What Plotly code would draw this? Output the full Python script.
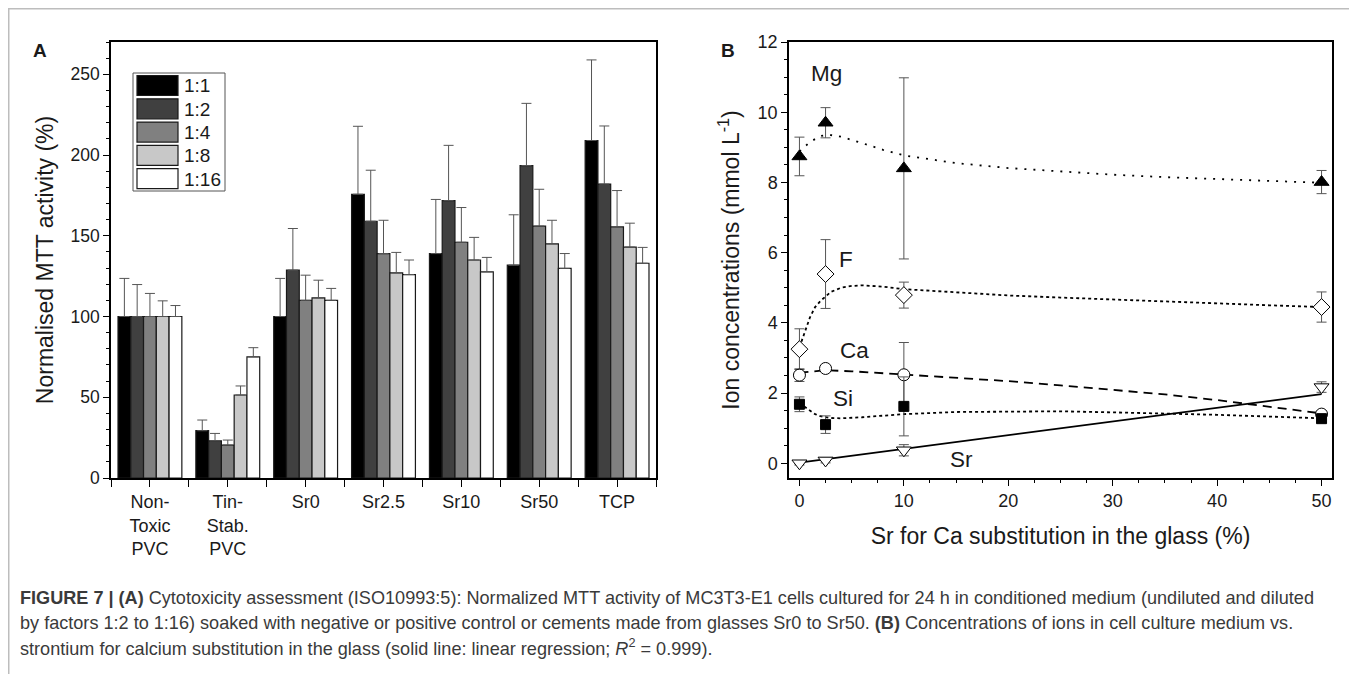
import plotly.graph_objects as go

# ---------------- Panel A data ----------------
groups = ["Non-<br>Toxic<br>PVC", "Tin-<br>Stab.<br>PVC", "Sr0", "Sr2.5", "Sr10", "Sr50", "TCP"]
dilutions = ["1:1", "1:2", "1:4", "1:8", "1:16"]
mtt_11 = [100, 29.3, 100, 175.7, 139, 131.8, 209]
mtt_12 = [100, 23.0, 128.7, 159, 171.8, 193.5, 182]
mtt_14 = [100, 20.4, 110, 139, 146, 156, 155.5]
mtt_18 = [100, 51.4, 111.5, 127, 135, 145, 143]
mtt_116 = [100, 75.0, 110, 126, 127.7, 129.8, 133]
err_11 = [23.6, 6.6, 23.6, 42.1, 33.5, 31.2, 49.9]
err_12 = [19.8, 4.6, 25.8, 31.6, 34.2, 38.5, 36]
err_14 = [14.3, 3.1, 15.6, 20.6, 21.5, 22.8, 22.5]
err_18 = [9.7, 5.6, 11.0, 12.7, 14, 14.6, 14.8]
err_116 = [6.8, 5.7, 7.4, 9, 8.9, 9.2, 9.8]

# ---------------- Panel B data ----------------
sub_x = [0, 2.5, 10, 50]
mg_y = [8.74, 9.70, 8.40, 8.01]
mg_err = [0.55, 0.43, 2.58, 0.33]
f_y = [3.25, 5.39, 4.79, 4.45]
f_err = [0.58, 0.98, 0.37, 0.43]
ca_y = [2.51, 2.70, 2.52, 1.40]
ca_err = [0.18, 0.08, 0.92, 0.08]
si_y = [1.68, 1.10, 1.62, 1.27]
si_err = [0.21, 0.25, 0.84, 0.12]
sr_y = [0.0, 0.08, 0.37, 2.17]
sr_err = [0.05, 0.07, 0.16, 0.15]

mg_fit_x = [0, 1, 2, 2.5, 3, 4, 6, 8, 10, 15, 20, 25, 30, 35, 40, 45, 50]
mg_fit_y = [8.88, 9.15, 9.32, 9.35, 9.35, 9.30, 9.12, 8.93, 8.77, 8.55, 8.41, 8.31, 8.22, 8.15, 8.09, 8.04, 7.99]
f_fit_x = [0, 0.5, 1, 1.5, 2, 2.5, 3, 4, 5, 6, 8, 10, 15, 20, 25, 30, 35, 40, 45, 50]
f_fit_y = [3.30, 3.70, 4.15, 4.45, 4.62, 4.75, 4.88, 5.00, 5.05, 5.07, 5.03, 4.96, 4.86, 4.78, 4.72, 4.66, 4.60, 4.55, 4.50, 4.45]
ca_fit_x = [0, 2.5, 5, 10, 15, 20, 25, 30, 35, 40, 45, 50]
ca_fit_y = [2.58, 2.65, 2.62, 2.53, 2.44, 2.34, 2.22, 2.10, 1.96, 1.80, 1.62, 1.42]
si_fit_x = [0, 0.5, 1, 1.5, 2, 3, 4, 6, 8, 10, 15, 20, 25, 30, 35, 40, 45, 50]
si_fit_y = [1.72, 1.60, 1.50, 1.40, 1.34, 1.29, 1.28, 1.31, 1.35, 1.40, 1.46, 1.48, 1.48, 1.45, 1.42, 1.38, 1.33, 1.28]
sr_fit_x = [0, 50]
sr_fit_y = [0.02, 1.97]

ion_labels = ["Mg", "F", "Ca", "Si", "Sr"]
ion_label_x = [2.6, 4.5, 5.3, 4.2, 15.5]
ion_label_y = [11.1, 5.8, 3.2, 1.85, 0.1]

caption_lines = [
    "<b>FIGURE 7 | (A)</b> Cytotoxicity assessment (ISO10993:5): Normalized MTT activity of MC3T3-E1 cells cultured for 24 h in conditioned medium (undiluted and diluted",
    "by factors 1:2 to 1:16) soaked with negative or positive control or cements made from glasses Sr0 to Sr50. <b>(B)</b> Concentrations of ions in cell culture medium vs.",
    "strontium for calcium substitution in the glass (solid line: linear regression; <i>R</i><sup>2</sup> = 0.999).",
]

# ---------------- layout geometry (screen px; page body adds an 8 px offset) ----------------
OFF = 8
W, H = 1357 - OFF, 674 - OFF
A_LEFT, A_RIGHT, B_LEFT, B_RIGHT, P_TOP, P_BOT = 111, 656, 789, 1332, 42, 478
ML, MR, MT = A_LEFT - OFF, W - (B_RIGHT - OFF), P_TOP - OFF
MB = H - (P_BOT - OFF)
PW, PH = W - ML - MR, H - MT - MB
FONT = "Liberation Sans, Arial, sans-serif"
TXT = "#1a1a1a"
bar_colors = ["#000000", "#404040", "#808080", "#c8c8c8", "#ffffff"]


def fx(sx):
    return (sx - OFF - ML) / PW


def fy(sy):
    return (H - MB - (sy - OFF)) / PH


fig = go.Figure()

vals = [mtt_11, mtt_12, mtt_14, mtt_18, mtt_116]
errs = [err_11, err_12, err_14, err_18, err_116]
xpos = list(range(len(groups)))
for name, v, e, c in zip(dilutions, vals, errs, bar_colors):
    fig.add_trace(go.Bar(
        x=xpos, y=v, name=name, marker=dict(color=c, line=dict(color="#1a1a1a", width=1.2)),
        error_y=dict(type="data", array=e, arrayminus=[0] * len(e), symmetric=False,
                     color="#555555", thickness=1, width=5),
        xaxis="x", yaxis="y", showlegend=False,
    ))

# fit lines (panel B)
line_specs = [
    (mg_fit_x, mg_fit_y, "2px,7px"),
    (f_fit_x, f_fit_y, "3px,3px"),
    (ca_fit_x, ca_fit_y, "9px,6px"),
    (si_fit_x, si_fit_y, "3px,3px"),
    (sr_fit_x, sr_fit_y, "solid"),
]
for lx, ly, dash in line_specs:
    fig.add_trace(go.Scatter(x=lx, y=ly, mode="lines", line=dict(color="black", width=1.8, dash=dash),
                             xaxis="x2", yaxis="y2", showlegend=False, hoverinfo="skip"))

pt_specs = [
    ("Mg", mg_y, mg_err, "triangle-up", "black", 13),
    ("F", f_y, f_err, "diamond", "white", 13),
    ("Ca", ca_y, ca_err, "circle", "white", 12),
    ("Si", si_y, si_err, "square", "black", 10),
    ("Sr", sr_y, sr_err, "triangle-down", "white", 13),
]
for name, yv, ev, sym, fill, size in pt_specs:
    fig.add_trace(go.Scatter(
        x=sub_x, y=yv, mode="markers", name=name,
        marker=dict(symbol=sym, color=fill, size=size, line=dict(color="black", width=1)),
        error_y=dict(type="data", array=ev, color="#555555", thickness=1, width=5),
        xaxis="x2", yaxis="y2", showlegend=False,
    ))

axis_common = dict(showline=True, linecolor="black", linewidth=1.5, mirror=True, showgrid=False,
                   zeroline=False, ticks="outside", tickcolor="black", tickwidth=1.2)
title_font = dict(family=FONT, size=23, color=TXT)

fig.update_layout(
    width=W, height=H, margin=dict(l=ML, r=MR, t=MT, b=MB),
    plot_bgcolor="white", paper_bgcolor="white",
    barmode="group", bargap=0.18, bargroupgap=0,
    font=dict(family=FONT, color=TXT),
    xaxis=dict(axis_common, domain=[0, fx(A_RIGHT)], range=[-0.5, 6.5], tickvals=xpos, ticktext=groups,
               ticklen=7, tickfont=dict(family=FONT, size=18, color=TXT),
               minor=dict(dtick=1, tick0=0.5, ticks="outside", ticklen=7, tickcolor="black")),
    yaxis=dict(axis_common, domain=[0, 1], range=[0, 270], dtick=50, ticklen=6,
               tickfont=dict(family=FONT, size=17.5, color=TXT),
               minor=dict(dtick=10, ticks="outside", ticklen=3, tickcolor="black"),
               title=dict(text="Normalised MTT activity (%)", font=title_font, standoff=10)),
    xaxis2=dict(axis_common, domain=[fx(B_LEFT), 1], range=[-1, 51], dtick=10, ticklen=6, anchor="y2",
                tickfont=dict(family=FONT, size=18, color=TXT),
                minor=dict(dtick=2.5, tick0=0, ticks="outside", ticklen=3, tickcolor="black"),
                title=dict(text="Sr for Ca substitution in the glass (%)", font=title_font, standoff=18)),
    yaxis2=dict(axis_common, domain=[0, 1], range=[-0.42, 12], dtick=2, ticklen=6, anchor="x2",
                tickfont=dict(family=FONT, size=18, color=TXT),
                minor=dict(dtick=0.5, tick0=0, ticks="outside", ticklen=3, tickcolor="black"),
                title=dict(text="Ion concentrations (mmol L<sup>-1</sup>)", font=title_font, standoff=12)),
)

shapes = []
annotations = []
# outer figure frame
shapes.append(dict(type="rect", xref="paper", yref="paper", x0=fx(OFF + 0.75), x1=fx(1354), y0=fy(720), y1=fy(OFF + 0.75),
                   line=dict(color="#bdbdbd", width=1.5), fillcolor="rgba(0,0,0,0)", layer="below"))
# legend (panel A)
lx0, ly0, pitch = 133, 73, 23.3
shapes.append(dict(type="rect", xref="paper", yref="paper", x0=fx(lx0), x1=fx(225), y0=fy(ly0 + 118), y1=fy(ly0),
                   line=dict(color="#555555", width=1), fillcolor="white"))
for i, (name, c) in enumerate(zip(dilutions, bar_colors)):
    top = ly0 + 2.5 + i * pitch
    shapes.append(dict(type="rect", xref="paper", yref="paper", x0=fx(lx0 + 4), x1=fx(lx0 + 45),
                       y0=fy(top + 20), y1=fy(top), line=dict(color="#1a1a1a", width=1.2), fillcolor=c))
    annotations.append(dict(xref="paper", yref="paper", x=fx(lx0 + 49), y=fy(top + 10.5), text=name,
                            showarrow=False, xanchor="left", yanchor="middle",
                            font=dict(family=FONT, size=19, color=TXT)))
# panel letters
annotations.append(dict(xref="paper", yref="paper", x=fx(40), y=fy(50), text="<b>A</b>", showarrow=False,
                        xanchor="center", yanchor="middle", font=dict(family=FONT, size=19, color=TXT)))
annotations.append(dict(xref="paper", yref="paper", x=fx(728), y=fy(50), text="<b>B</b>", showarrow=False,
                        xanchor="center", yanchor="middle", font=dict(family=FONT, size=19, color=TXT)))
# ion labels
for t, x, y in zip(ion_labels, ion_label_x, ion_label_y):
    annotations.append(dict(xref="x2", yref="y2", x=x, y=y, text=t, showarrow=False,
                            xanchor="center", yanchor="middle",
                            font=dict(family=FONT, size=22.5, color=TXT)))
# caption
for i, line in enumerate(caption_lines):
    annotations.append(dict(xref="paper", yref="paper", x=fx(18), y=fy(598 + i * 24.5), text=line,
                            showarrow=False, xanchor="left", yanchor="middle",
                            font=dict(family=FONT, size=18.1, color="#3a3a3a")))

fig.update_layout(shapes=shapes, annotations=annotations)
fig.write_html("out.html")
